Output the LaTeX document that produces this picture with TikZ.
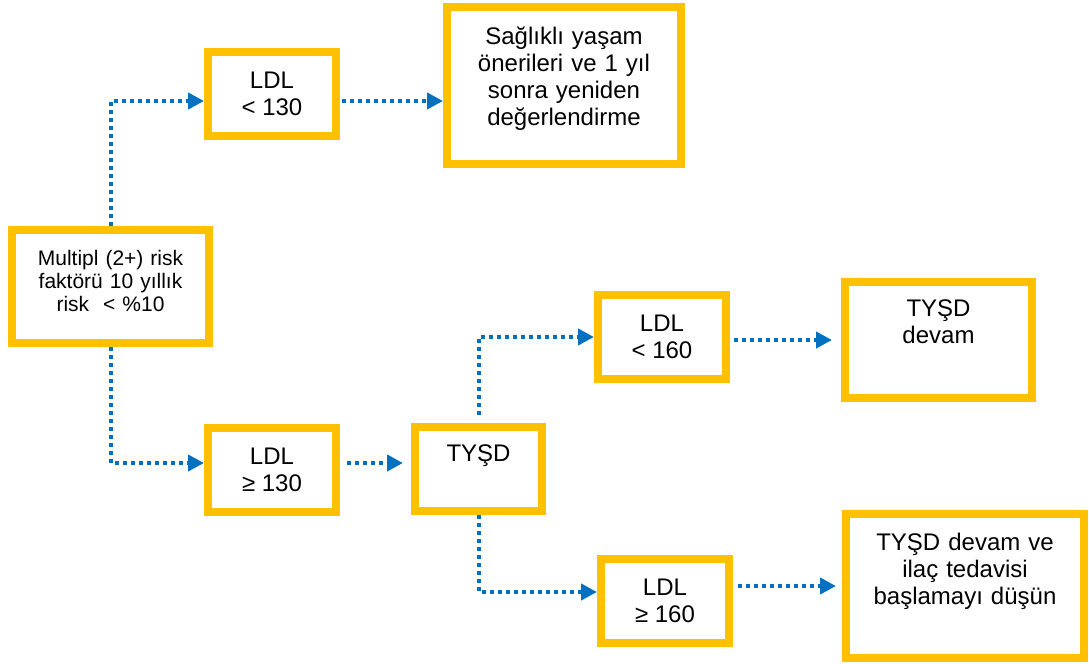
\documentclass[tikz,border=0pt]{standalone}
\usepackage{fontspec}
\setmainfont{Liberation Sans}
\usepackage{xcolor}
\usepackage{tikz}
\usetikzlibrary{arrows.meta,positioning}
\definecolor{boxgold}{HTML}{FFC000}
\definecolor{linkblue}{HTML}{0070C0}
\tikzset{
  riskbox/.style={rectangle,draw=boxgold,line width=6pt,fill=white,inner sep=0pt,minimum width=147.75pt,align=center,font=\fontsize{15.75}{17.5}\selectfont},
  ldlbox/.style={rectangle,draw=boxgold,line width=6pt,fill=white,minimum width=96pt,minimum height=63pt,align=center,font=\fontsize{18}{20}\selectfont},
  notebox/.style={rectangle,draw=boxgold,line width=6pt,fill=white,inner sep=0pt,align=center,font=\fontsize{18}{20.25}\selectfont},
  arrow/.style={-{Triangle[length=12pt,width=12pt]},draw=linkblue,line width=3pt,dash pattern=on 3pt off 3pt}
}

\begin{document}
\begin{tikzpicture}[x=0.75pt,y=-0.75pt]
  \useasboundingbox (0,0) rectangle (1089,664);

  \node[riskbox,text width=140pt,text height=26.25pt,text depth=58.5pt] (risk) at (110.5,286.5) {Multipl (2+) risk\\faktörü 10 yıllık\\risk~~<~\%10};
  \node[ldlbox] (low130) at (272,94) {LDL\\< 130};
  \node[ldlbox,below=213pt of low130] (high130) {LDL\\≥ 130};
  \node[notebox,right=77.25pt of low130,yshift=6.4pt,minimum width=175.5pt,text width=170pt,text height=28.5pt,text depth=89.25pt] (advice) {Sağlıklı yaşam\\önerileri ve 1 yıl\\sonra yeniden\\değerlendirme};
  \node[notebox,right=53.25pt of high130,yshift=0.75pt,minimum width=95.25pt,text width=90pt,text height=26pt,text depth=37pt] (tysd) {TYŞD};
  \node[ldlbox,right=36pt of tysd,yshift=99pt] (low160) {LDL\\< 160};
  \node[ldlbox,right=38.25pt of tysd,yshift=-99pt] (high160) {LDL\\≥ 160};
  \node[notebox,right=83.25pt of low160,yshift=-2.25pt,minimum width=140.25pt,text width=135pt,text height=26pt,text depth=61pt] (keep) {TYŞD\\devam};
  \node[notebox,right=81.75pt of high160,yshift=11.25pt,minimum width=178.5pt,text width=175pt,text height=27pt,text depth=81pt] (drug) {TYŞD devam ve\\ilaç tedavisi\\başlamayı düşün};

  \draw[arrow] (risk.north) |- ([yshift=-5.25pt]low130.west);
  \draw[arrow,shorten <=1.5pt] ([yshift=-5.25pt]low130.east) -- ([yshift=-5.25pt]low130.east -| advice.west);
  \draw[arrow] (risk.south) |- ([yshift=5.25pt]high130.west);
  \draw[arrow,shorten <=5pt,shorten >=6pt] ([yshift=5.25pt]high130.east) -- ([yshift=5.25pt]high130.east -| tysd.west);
  \draw[arrow,shorten <=6pt] (tysd.north) |- (low160.west);
  \draw[arrow,shorten <=3pt,shorten >=6.75pt] (low160.east |- keep.west) -- (keep.west);
  \draw[arrow] (tysd.south) |- ([yshift=6.75pt]high160.west);
  \draw[arrow,shorten <=4pt,shorten >=4.5pt] (high160.east |- drug.west) -- (drug.west);
\end{tikzpicture}
\end{document}
